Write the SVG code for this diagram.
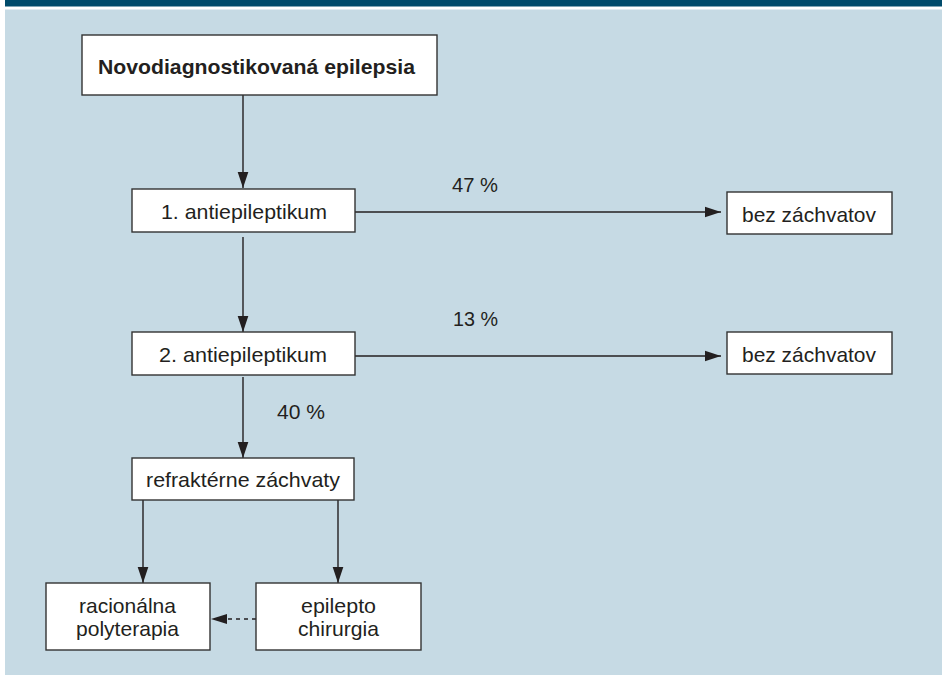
<svg xmlns="http://www.w3.org/2000/svg" width="942" height="675" viewBox="0 0 942 675">
<defs>
<style>
.box{fill:#ffffff;stroke:#333333;stroke-width:1.4}
.t{font-family:"Liberation Sans",Arial,sans-serif;font-size:21px;fill:#231f20}
.b{font-weight:bold}
.c{stroke:#231f20;stroke-width:1.4;fill:none}
.d{stroke-dasharray:4 4}
</style>
<marker id="ah" markerUnits="userSpaceOnUse" markerWidth="16" markerHeight="12" viewBox="0 0 15 10" refX="15" refY="5" orient="auto">
<path d="M0,0 L15,5 L0,10 z" fill="#231f20"/>
</marker>
</defs>
<rect x="0" y="0" width="942" height="675" fill="#ffffff"/>
<rect x="5" y="0" width="937" height="6.5" fill="#004b6b"/>
<rect x="5" y="9.5" width="937" height="665.5" fill="#c6dae4"/>

<g id="connectors">
<line class="c" x1="243" y1="95" x2="243" y2="188" marker-end="url(#ah)"/>
<line class="c" x1="243" y1="237" x2="243" y2="332" marker-end="url(#ah)"/>
<line class="c" x1="243" y1="377" x2="243" y2="458" marker-end="url(#ah)"/>
<line class="c" x1="355" y1="212" x2="721" y2="212" marker-end="url(#ah)"/>
<line class="c" x1="355" y1="356" x2="721" y2="356" marker-end="url(#ah)"/>
<line class="c" x1="143" y1="500" x2="143" y2="583" marker-end="url(#ah)"/>
<line class="c" x1="338" y1="500" x2="338" y2="583" marker-end="url(#ah)"/>
<line class="c d" x1="256" y1="619" x2="227" y2="619"/>
<path d="M211,619 L227,614 L227,624 z" fill="#231f20"/>
<text class="t" x="452" y="192" textLength="46" lengthAdjust="spacingAndGlyphs">47 %</text>
<text class="t" x="453" y="326" textLength="45" lengthAdjust="spacingAndGlyphs">13 %</text>
<text class="t" x="277" y="419" textLength="48" lengthAdjust="spacingAndGlyphs">40 %</text>
</g>

<g id="n-novo">
<rect class="box" x="82" y="35" width="355" height="60"/>
<text class="t b" x="98" y="74" textLength="317" lengthAdjust="spacingAndGlyphs">Novodiagnostikovaná epilepsia</text>
</g>
<g id="n-ae1">
<rect class="box" x="132" y="189" width="223" height="43"/>
<text class="t" x="161" y="219" textLength="166" lengthAdjust="spacingAndGlyphs">1. antiepileptikum</text>
</g>
<g id="n-ae2">
<rect class="box" x="132" y="332" width="223" height="43"/>
<text class="t" x="159" y="362" textLength="168" lengthAdjust="spacingAndGlyphs">2. antiepileptikum</text>
</g>
<g id="n-bez1">
<rect class="box" x="727" y="192" width="165" height="42"/>
<text class="t" x="742" y="222" textLength="134" lengthAdjust="spacingAndGlyphs">bez záchvatov</text>
</g>
<g id="n-bez2">
<rect class="box" x="727" y="332" width="165" height="42"/>
<text class="t" x="742" y="362" textLength="134" lengthAdjust="spacingAndGlyphs">bez záchvatov</text>
</g>
<g id="n-refr">
<rect class="box" x="132" y="458" width="222" height="42"/>
<text class="t" x="146" y="487" textLength="194" lengthAdjust="spacingAndGlyphs">refraktérne záchvaty</text>
</g>
<g id="n-rac">
<rect class="box" x="46" y="583" width="164" height="67"/>
<text class="t" x="79" y="613" textLength="97" lengthAdjust="spacingAndGlyphs">racionálna</text>
<text class="t" x="76" y="636" textLength="103" lengthAdjust="spacingAndGlyphs">polyterapia</text>
</g>
<g id="n-epi">
<rect class="box" x="256" y="583" width="165" height="67"/>
<text class="t" x="301" y="613" textLength="75" lengthAdjust="spacingAndGlyphs">epilepto</text>
<text class="t" x="298" y="636" textLength="81" lengthAdjust="spacingAndGlyphs">chirurgia</text>
</g>
</svg>
